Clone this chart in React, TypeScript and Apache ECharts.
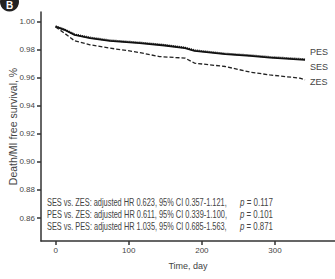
import React, { useEffect, useRef } from "react";
import * as echarts from "echarts";

const FONT = "'Liberation Sans', Arial, sans-serif";

// Kaplan-Meier estimates (day, survival)
const sesDays = [0, 12, 26, 47, 74, 115, 149, 177, 190, 232, 266, 293, 341];
const sesSurv = [0.9966, 0.9943, 0.9907, 0.9884, 0.9864, 0.9848, 0.9831, 0.9812, 0.9793, 0.9769, 0.9757, 0.9745, 0.9729];

const pesDays = [0, 12, 26, 47, 74, 115, 149, 177, 190, 232, 266, 293, 341];
const pesSurv = [0.9968, 0.9946, 0.991, 0.9888, 0.9868, 0.9852, 0.9835, 0.9816, 0.9797, 0.9773, 0.9761, 0.9749, 0.9733];

const zesDays = [0, 12, 26, 47, 74, 101, 119, 142, 177, 190, 232, 266, 293, 334, 341];
const zesSurv = [0.9964, 0.9919, 0.9864, 0.9836, 0.9812, 0.9793, 0.9776, 0.9752, 0.9741, 0.9705, 0.9681, 0.9641, 0.9621, 0.9598, 0.9586];

const yTicks = [0.86, 0.88, 0.9, 0.92, 0.94, 0.96, 0.98, 1.0];
const xTicks = [0, 100, 200, 300];

const statLines = [
  { text: "SES vs. ZES: adjusted HR 0.623, 95% CI 0.357-1.121,", p: "0.117" },
  { text: "PES vs. ZES: adjusted HR 0.611, 95% CI 0.339-1.100,", p: "0.101" },
  { text: "SES vs. PES: adjusted HR 1.035, 95% CI 0.685-1.563,", p: "0.871" },
];

const zip = (xs: number[], ys: number[]) => xs.map((x, i) => [x, ys[i]]);

// horizontal squeeze so a line of text fits a given width (narrow typeface look)
function fitScale(text: string, font: string, width: number): number {
  const c = document.createElement("canvas").getContext("2d");
  if (!c) return 0.75;
  c.font = font;
  const w = c.measureText(text).width;
  return w > 0 ? Math.min(1, width / w) : 0.75;
}

export default function App() {
  const ref = useRef<HTMLDivElement>(null);

  useEffect(() => {
    if (!ref.current) return;
    const chart = echarts.init(ref.current, null, { renderer: "svg" });
    const axisColor = "#333";
    const textColor = "#444";
    const statFont = `10px ${FONT}`;

    const statGraphics: any[] = [];
    statLines.forEach((s, i) => {
      const y = 203 + i * 11.6;
      statGraphics.push({
        type: "text",
        x: 47,
        y,
        scaleX: fitScale(s.text, statFont, 180),
        style: { text: s.text, font: statFont, fill: textColor, verticalAlign: "middle" },
      });
      const pText = `p = ${s.p}`;
      statGraphics.push({
        type: "text",
        x: 240,
        y,
        scaleX: fitScale(pText, statFont, 33),
        style: {
          text: `{i|p} = ${s.p}`,
          font: statFont,
          fill: textColor,
          verticalAlign: "middle",
          rich: { i: { fontStyle: "italic", fontFamily: FONT, fontSize: 10, fill: textColor } },
        },
      });
    });

    const endLabel = (name: string, dy: number) => ({
      show: true,
      formatter: name,
      color: textColor,
      fontFamily: FONT,
      fontSize: 9,
      distance: 2,
      offset: [3, dy],
    });

    chart.setOption({
      animation: false,
      grid: { left: 41, right: 0, top: 12, bottom: 38, containLabel: false, outerBoundsMode: "none" },
      xAxis: {
        type: "value",
        min: -20,
        max: 382,
        name: "Time, day",
        nameLocation: "middle",
        nameGap: 20,
        nameMoveOverlap: false,
        nameTextStyle: { fontFamily: FONT, fontSize: 9, color: textColor },
        axisLine: { show: true, onZero: false, lineStyle: { color: axisColor, width: 1.5 } },
        axisTick: { show: true, length: 4, customValues: xTicks, lineStyle: { color: axisColor, width: 1.5 } },
        axisLabel: { customValues: xTicks, fontFamily: FONT, fontSize: 8, color: textColor, margin: 5 },
        splitLine: { show: false },
      },
      yAxis: {
        type: "value",
        min: 0.8436,
        max: 1.007,
        name: "Death/MI free survival, %",
        nameLocation: "middle",
        nameGap: 23,
        nameMoveOverlap: false,
        nameRotate: 90,
        nameTextStyle: { fontFamily: FONT, fontSize: 10.5, color: textColor },
        axisLine: { show: true, onZero: false, lineStyle: { color: axisColor, width: 1.5 } },
        axisTick: { show: true, length: 4, customValues: yTicks, lineStyle: { color: axisColor, width: 1.5 } },
        axisLabel: {
          customValues: yTicks,
          formatter: (v: number) => v.toFixed(2),
          fontFamily: FONT,
          fontSize: 8,
          color: textColor,
          margin: 6,
        },
        splitLine: { show: false },
      },
      series: [
        {
          name: "SES",
          type: "line",
          data: zip(sesDays, sesSurv),
          showSymbol: false,
          lineStyle: { color: "#111", width: 1.8, type: "solid" },
          endLabel: endLabel("SES", 7),
          z: 2,
        },
        {
          name: "PES",
          type: "line",
          data: zip(pesDays, pesSurv),
          showSymbol: false,
          lineStyle: { color: "#111", width: 2, type: [1, 1] },
          endLabel: endLabel("PES", -7),
          z: 3,
        },
        {
          name: "ZES",
          type: "line",
          data: zip(zesDays, zesSurv),
          showSymbol: false,
          lineStyle: { color: "#222", width: 1.3, type: [4, 2] },
          endLabel: endLabel("ZES", 2),
          z: 2,
        },
      ],
      graphic: [
        { type: "circle", shape: { cx: 9.5, cy: 2, r: 9.5 }, style: { fill: "#222" } },
        {
          type: "text",
          x: 9.5,
          y: 5.5,
          style: { text: "B", font: `bold 10px ${FONT}`, fill: "#fff", align: "center", verticalAlign: "middle" },
        },
        ...statGraphics,
      ],
    });

    return () => chart.dispose();
  }, []);

  return (
    <div
      ref={ref}
      style={{ position: "fixed", left: 0, top: 0, width: 335, height: 279, background: "#fff" }}
    />
  );
}
